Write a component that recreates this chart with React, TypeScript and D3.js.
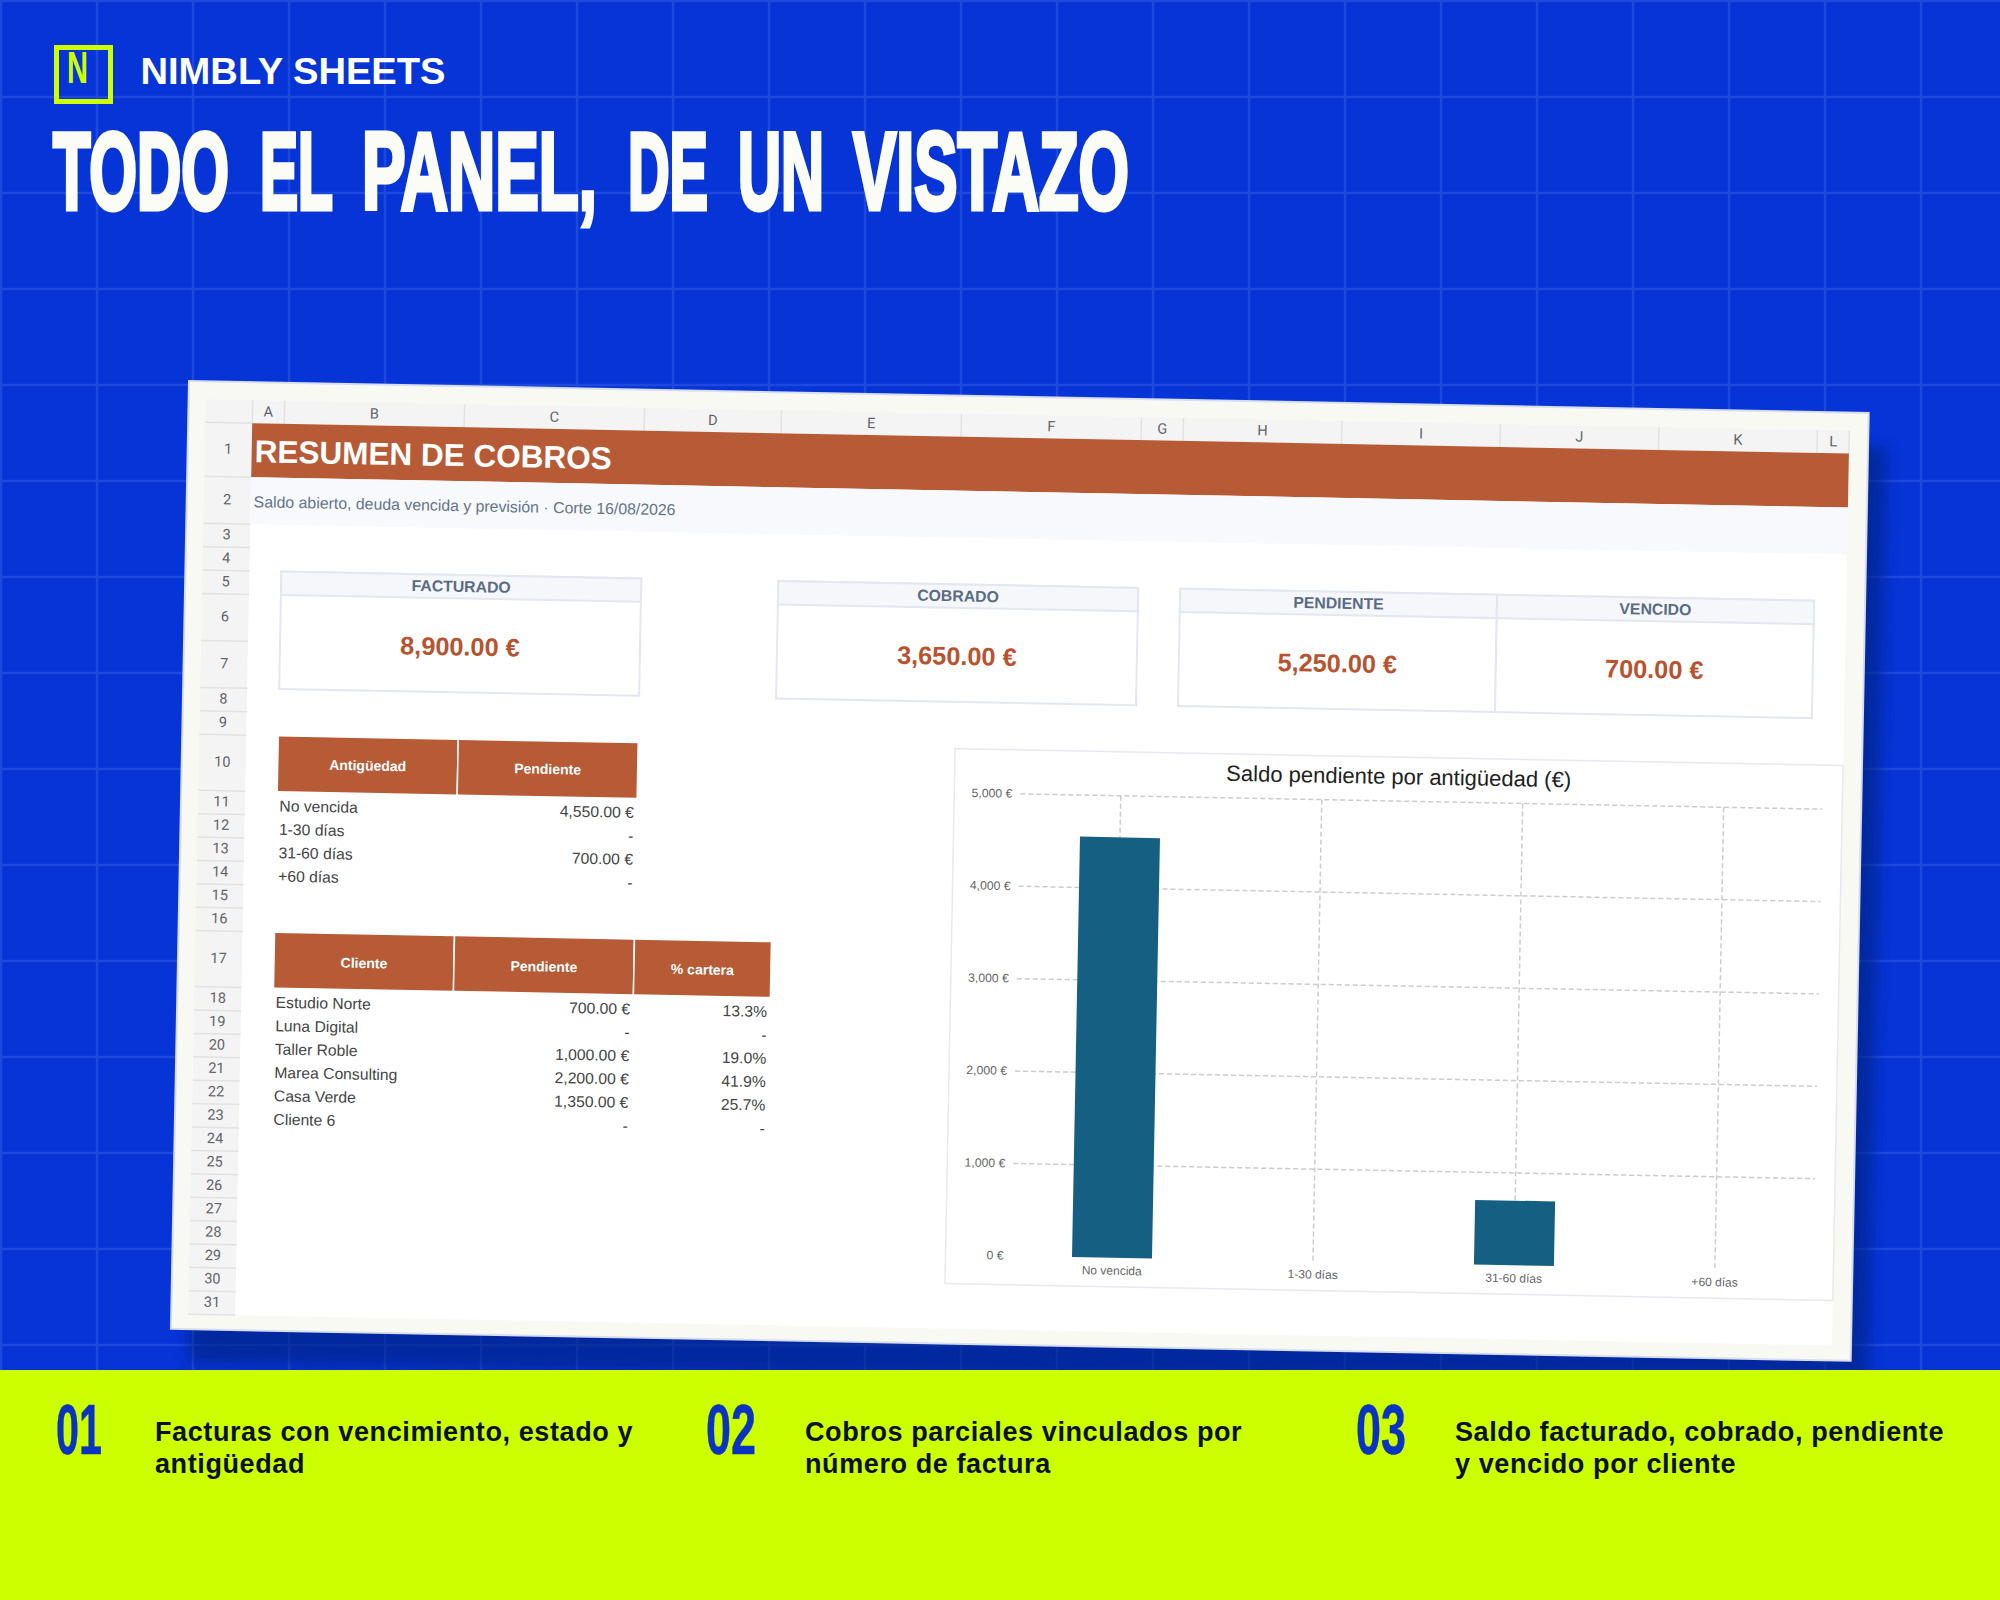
import { useEffect, useRef } from "react"
import * as d3 from "d3"

const brand = "NIMBLY SHEETS"
const headlineWords = ["TODO", "EL", "PANEL,", "DE", "UN", "VISTAZO"]
const sheetTitle = "RESUMEN DE COBROS"
const sheetSubtitle = "Saldo abierto, deuda vencida y previsión · Corte 16/08/2026"

const columnLetters = ["A", "B", "C", "D", "E", "F", "G", "H", "I", "J", "K", "L"]

const kpiLabels = ["FACTURADO", "COBRADO", "PENDIENTE", "VENCIDO"]
const kpiValues = ["8,900.00 €", "3,650.00 €", "5,250.00 €", "700.00 €"]

const agingHeaders = ["Antigüedad", "Pendiente"]
const agingBuckets = ["No vencida", "1-30 días", "31-60 días", "+60 días"]
const agingValues = [4550, 0, 700, 0]

const clientHeaders = ["Cliente", "Pendiente", "% cartera"]
const clients = ["Estudio Norte", "Luna Digital", "Taller Roble", "Marea Consulting", "Casa Verde", "Cliente 6"]
const clientValues = [700, 0, 1000, 2200, 1350, 0]
const clientShares = [13.3, 0, 19.0, 41.9, 25.7, 0]

const chartTitle = "Saldo pendiente por antigüedad (€)"
const chartTicks = [0, 1000, 2000, 3000, 4000, 5000]

const footerNumbers = ["01", "02", "03"]
const footerLines = [
  ["Facturas con vencimiento, estado y", "antigüedad"],
  ["Cobros parciales vinculados por", "número de factura"],
  ["Saldo facturado, cobrado, pendiente", "y vencido por cliente"],
]

// headline word extents, the display face is condensed so each word is fitted
const headlineSpans = [[51, 231], [258, 335], [360, 599], [626, 710], [736, 826], [851, 1131]]

// layout of the tilted sheet, in its own coordinates
const columnWidths = [32, 180, 180, 137, 180, 180, 42, 158.5, 158.5, 158.5, 158.5, 32]
const rowHeights = [54, 47, 23.4, 23.4, 23.4, 47, 47, 23.4, 23.4, 56, 23.4, 23.4, 23.4, 23.4, 23.4, 23.4, 56,
  ...d3.range(14).map(() => 23.4)]

const SANS = "'Liberation Sans', Arial, sans-serif"
const RUST = "#b75b36"
const LIME = "#ccff00"
const BLUE = "#0634d6"

const money = (v: number) => (v === 0 ? "-" : `${d3.format(",.2f")(v)} €`)
const pct = (v: number) => (v === 0 ? "-" : `${v.toFixed(1)}%`)

export default function App() {
  const svgRef = useRef<SVGSVGElement>(null)

  useEffect(() => {
    const svg = d3.select(svgRef.current)
    svg.selectAll("*").remove()
    svg.attr("width", 2000).attr("height", 1600).style("position", "absolute").style("left", 0).style("top", 0)

    svg.append("rect").attr("width", 2000).attr("height", 1600).attr("fill", BLUE)

    // Background grid
    const bgGrid = svg.append("g").attr("stroke", "#1e49dc").attr("stroke-width", 2.5)
    d3.range(0, 2000, 96).forEach(x => {
      bgGrid.append("line").attr("x1", x + 1).attr("x2", x + 1).attr("y1", 0).attr("y2", 1600)
    })
    d3.range(0, 1600, 96).forEach(y => {
      bgGrid.append("line").attr("x1", 0).attr("x2", 2000).attr("y1", y + 1).attr("y2", y + 1)
    })

    // Logo and headline
    svg.append("rect").attr("x", 56.5).attr("y", 47.5).attr("width", 54).attr("height", 54)
      .attr("fill", "none").attr("stroke", LIME).attr("stroke-width", 5)
    svg.append("text").attr("x", 67).attr("y", 83).attr("font-family", SANS).attr("font-weight", 700)
      .attr("font-size", 45).attr("fill", LIME).attr("textLength", 21).attr("lengthAdjust", "spacingAndGlyphs")
      .text("N")
    svg.append("text").attr("x", 140.5).attr("y", 84).attr("font-family", SANS).attr("font-weight", 700)
      .attr("font-size", 37).attr("fill", "#fff").attr("textLength", 305).attr("lengthAdjust", "spacingAndGlyphs")
      .text(brand)
    headlineWords.forEach((word, i) => {
      const [x0, x1] = headlineSpans[i]
      const label = svg.append("text").attr("font-family", SANS).attr("font-weight", 700)
        .attr("font-size", 110).attr("fill", "#fcfcf6").attr("stroke", "#fcfcf6").attr("stroke-width", 4)
        .attr("stroke-linejoin", "miter").attr("vector-effect", "non-scaling-stroke")
        .text(word)
      // squeeze the word into its span
      const natural = (label.node() as SVGTextElement).getComputedTextLength()
      label.attr("transform", `translate(${x0 + 2},208.7) scale(${(x1 - x0 - 4) / natural},1)`)
    })

    // Shadow under the sheet
    const defs = svg.append("defs")
    defs.append("filter").attr("id", "sheet-shadow").attr("x", "-5%").attr("y", "-5%")
      .attr("width", "110%").attr("height", "110%")
      .append("feGaussianBlur").attr("stdDeviation", 7)

    const sheet = svg.append("g").attr("transform", "translate(189,381) rotate(1.09)")
    const W = 1680
    const H = 948

    sheet.append("rect").attr("x", 18).attr("y", 34).attr("width", W).attr("height", H)
      .attr("fill", "#04207f").attr("opacity", 0.62).attr("filter", "url(#sheet-shadow)")
    sheet.append("rect").attr("width", W).attr("height", H).attr("fill", "#f9f9f4")
      .attr("stroke", "#d9deee").attr("stroke-width", 2)

    const left = 64
    const headTop = 18
    const top = 41
    const colX = [left, ...d3.cumsum(columnWidths).map(d => left + d)]
    const rowY = [top, ...d3.cumsum(rowHeights).map(d => top + d)]
    const right = colX[colX.length - 1]
    const bottom = rowY[rowY.length - 1]

    // Row and column headers
    sheet.append("rect").attr("x", 17).attr("y", headTop).attr("width", right - 17).attr("height", top - headTop)
      .attr("fill", "#f4f4f4")
    sheet.append("rect").attr("x", 17).attr("y", top).attr("width", left - 17).attr("height", bottom - top)
      .attr("fill", "#f4f4f4")
    sheet.append("rect").attr("x", left).attr("y", top).attr("width", right - left).attr("height", bottom - top)
      .attr("fill", "#fff")

    const headerGrid = sheet.append("g").attr("stroke", "#e2e2e2").attr("stroke-width", 1.5)
    colX.forEach(x => {
      headerGrid.append("line").attr("x1", x).attr("x2", x).attr("y1", headTop).attr("y2", top)
    })
    rowY.forEach(y => {
      headerGrid.append("line").attr("x1", 17).attr("x2", left).attr("y1", y).attr("y2", y)
    })

    sheet.append("g").selectAll("text").data(columnLetters).enter().append("text")
      .attr("x", (d, i) => (colX[i] + colX[i + 1]) / 2)
      .attr("y", top - 7)
      .attr("text-anchor", "middle")
      .attr("font-family", "Roboto, sans-serif")
      .attr("font-size", 14.5)
      .attr("fill", "#5f6368")
      .text(d => d)

    sheet.append("g").selectAll("text").data(rowHeights).enter().append("text")
      .attr("x", 40.5)
      .attr("y", (d, i) => (rowY[i] + rowY[i + 1]) / 2 + 4)
      .attr("text-anchor", "middle")
      .attr("font-family", "Roboto, sans-serif")
      .attr("font-size", 14.5)
      .attr("fill", "#5f6368")
      .text((d, i) => i + 1)

    // Title rows
    sheet.append("rect").attr("x", left).attr("y", rowY[0]).attr("width", right - left).attr("height", rowHeights[0])
      .attr("fill", RUST)
    sheet.append("rect").attr("x", left).attr("y", rowY[1]).attr("width", right - left).attr("height", rowHeights[1])
      .attr("fill", "#f7f9fc")
    sheet.append("text").attr("x", left + 3).attr("y", 80).attr("font-family", SANS).attr("font-weight", 700)
      .attr("font-size", 31.5).attr("fill", "#fff").text(sheetTitle)
    sheet.append("text").attr("x", left + 3).attr("y", 125).attr("font-family", SANS)
      .attr("font-size", 15.85).attr("fill", "#64748b").text(sheetSubtitle)

    // KPI cards: [first column, last column]
    const kpiSpans = [[1, 2], [4, 5], [7, 8], [9, 10]]
    kpiLabels.forEach((label, i) => {
      const x0 = colX[kpiSpans[i][0]]
      const x1 = colX[kpiSpans[i][1] + 1]
      const card = sheet.append("g")
      card.append("rect").attr("x", x0).attr("y", rowY[4]).attr("width", x1 - x0).attr("height", rowY[7] - rowY[4])
        .attr("fill", "#fff").attr("stroke", "#e2e7f1").attr("stroke-width", 2)
      card.append("rect").attr("x", x0).attr("y", rowY[4]).attr("width", x1 - x0).attr("height", rowHeights[4])
        .attr("fill", "#f5f7fb").attr("stroke", "#e2e7f1").attr("stroke-width", 2)
      card.append("text").attr("x", (x0 + x1) / 2).attr("y", rowY[5] - 6.5).attr("text-anchor", "middle")
        .attr("font-family", SANS).attr("font-weight", 700).attr("font-size", 15.8).attr("fill", "#5a6b85").text(label)
      card.append("text").attr("x", (x0 + x1) / 2).attr("y", (rowY[5] + rowY[7]) / 2 + 10).attr("text-anchor", "middle")
        .attr("font-family", SANS).attr("font-weight", 700).attr("font-size", 25.3).attr("fill", "#b8532f")
        .text(kpiValues[i])
    })

    // Tables
    const tableHeader = (row: number, firstCol: number, labels: string[], nudge: number) => {
      labels.forEach((label, i) => {
        const x0 = colX[firstCol + i]
        const x1 = colX[firstCol + i + 1]
        sheet.append("rect").attr("x", x0).attr("y", rowY[row]).attr("width", x1 - x0).attr("height", rowHeights[row])
          .attr("fill", RUST).attr("stroke", "#fff").attr("stroke-width", 1.5)
        sheet.append("text").attr("x", (x0 + x1) / 2).attr("y", (rowY[row] + rowY[row + 1]) / 2 + 5 + nudge)
          .attr("text-anchor", "middle").attr("font-family", SANS).attr("font-weight", 700)
          .attr("font-size", 14).attr("fill", "#fff").text(label)
      })
    }
    const tableColumn = (row: number, col: number, values: string[], anchor: "start" | "end") => {
      sheet.append("g").selectAll("text").data(values).enter().append("text")
        .attr("x", anchor === "start" ? colX[col] + 2.5 : colX[col + 1] - 3)
        .attr("y", (d, i) => rowY[row + i + 1] - (anchor === "start" ? 3.8 : 4))
        .attr("text-anchor", anchor)
        .attr("font-family", SANS)
        .attr("font-size", 15.7)
        .attr("fill", "#444")
        .text(d => d)
    }
    tableHeader(9, 1, agingHeaders, 0)
    tableColumn(10, 1, agingBuckets, "start")
    tableColumn(10, 2, agingValues.map(money), "end")
    tableHeader(16, 1, clientHeaders, 1.2)
    tableColumn(17, 1, clients, "start")
    tableColumn(17, 2, clientValues.map(money), "end")
    tableColumn(17, 3, clientShares.map(pct), "end")

    // Chart
    const chartX0 = colX[5]
    const chartY0 = rowY[9]
    const chart = sheet.append("g")
    chart.append("rect").attr("x", chartX0).attr("y", chartY0).attr("width", right - chartX0).attr("height", 535)
      .attr("fill", "#fff").attr("stroke", "#e6e9f0").attr("stroke-width", 1.5)
    chart.append("text").attr("x", (chartX0 + right) / 2).attr("y", chartY0 + 27).attr("text-anchor", "middle")
      .attr("font-family", SANS).attr("font-size", 22).attr("fill", "#222").text(chartTitle)

    const y = d3.scaleLinear().domain([0, 5000]).range([chartY0 + 506, chartY0 + 44])
    const x = d3.scalePoint<string>().domain(agingBuckets).range([839, 1643]).padding(0.5)
    const barWidth = 80
    const gridColor = "#cccccc"

    chart.append("g").selectAll("line").data(chartTicks.filter(d => d > 0)).enter().append("line")
      .attr("x1", 839).attr("x2", 1641)
      .attr("y1", d => y(d)).attr("y2", d => y(d))
      .attr("stroke", gridColor).attr("stroke-width", 1.5).attr("stroke-dasharray", "5,3")
    chart.append("g").selectAll("line").data(agingBuckets).enter().append("line")
      .attr("x1", d => x(d)!).attr("x2", d => x(d)!)
      .attr("y1", y(5000)).attr("y2", y(0))
      .attr("stroke", gridColor).attr("stroke-width", 1.5).attr("stroke-dasharray", "5,3")

    chart.append("g").selectAll("rect").data(agingBuckets).enter().append("rect")
      .attr("x", d => x(d)! - barWidth / 2)
      .attr("y", (d, i) => y(agingValues[i]))
      .attr("width", barWidth)
      .attr("height", (d, i) => y(0) - y(agingValues[i]))
      .attr("fill", "#156082")

    chart.append("g").selectAll("text").data(chartTicks).enter().append("text")
      .attr("x", 831).attr("y", d => y(d) + 4).attr("text-anchor", "end")
      .attr("font-family", SANS).attr("font-size", 12.2).attr("fill", "#666")
      .text(d => `${d3.format(",")(d)} €`)
    chart.append("g").selectAll("text").data(agingBuckets).enter().append("text")
      .attr("x", d => x(d)!).attr("y", y(0) + 17).attr("text-anchor", "middle")
      .attr("font-family", SANS).attr("font-size", 12).attr("fill", "#666")
      .text(d => d)

    // Footer band
    svg.append("rect").attr("y", 1370).attr("width", 2000).attr("height", 230).attr("fill", LIME)
    const footerColumns = [0, 650, 1300]
    const numberWidths = [46, 50, 50]
    footerNumbers.forEach((num, i) => {
      const fx = footerColumns[i]
      svg.append("text").attr("x", fx + 56).attr("y", 1454).attr("font-family", SANS).attr("font-weight", 700)
        .attr("font-size", 70).attr("fill", "#0a33c2").attr("stroke", "#0a33c2").attr("stroke-width", 0.5)
        .attr("textLength", numberWidths[i]).attr("lengthAdjust", "spacingAndGlyphs").text(num)
      footerLines[i].forEach((line, j) => {
        svg.append("text").attr("x", fx + 155).attr("y", 1440.5 + j * 32).attr("font-family", SANS)
          .attr("font-weight", 700).attr("font-size", 27).attr("letter-spacing", 0.6)
          .attr("fill", "#0b1024").text(line)
      })
    })
  }, [])

  return <svg ref={svgRef}></svg>
}
